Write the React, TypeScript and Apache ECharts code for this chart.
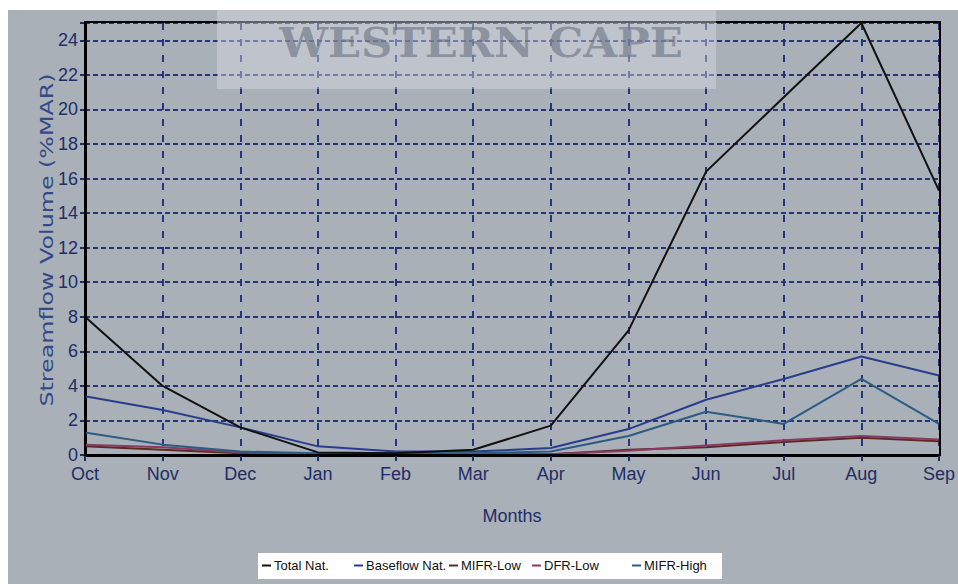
import React, { useEffect, useRef } from "react";
import * as echarts from "echarts";

const months = ["Oct", "Nov", "Dec", "Jan", "Feb", "Mar", "Apr", "May", "Jun", "Jul", "Aug", "Sep"];
const totalNat = [8.0, 4.0, 1.6, 0.15, 0.1, 0.3, 1.7, 7.2, 16.4, 20.7, 25.0, 15.3];
const baseflowNat = [3.4, 2.6, 1.6, 0.5, 0.2, 0.2, 0.4, 1.5, 3.2, 4.4, 5.7, 4.6];
const mifrLow = [0.5, 0.3, 0.1, 0.05, 0.05, 0.05, 0.05, 0.3, 0.45, 0.75, 1.0, 0.8];
const dfrLow = [0.6, 0.45, 0.15, 0.05, 0.05, 0.05, 0.05, 0.25, 0.55, 0.85, 1.1, 0.9];
const mifrHigh = [1.3, 0.6, 0.2, 0.1, 0.1, 0.1, 0.2, 1.1, 2.5, 1.8, 4.4, 1.8];
const yTicks = [0, 2, 4, 6, 8, 10, 12, 14, 16, 18, 20, 22, 24];

const seriesNames = ["Total Nat.", "Baseflow Nat.", "MIFR-Low", "DFR-Low", "MIFR-High"];
const seriesColors = ["#111111", "#2a3d8c", "#5a2a22", "#8a3a62", "#2c5b84"];
const seriesData = [totalNat, baseflowNat, mifrLow, dfrLow, mifrHigh];
const legendX = [262, 354, 449, 532, 632];

const SANS = "'Liberation Sans', Arial, sans-serif";
const LABEL = "#1f2d66";

export default function App() {
  const ref = useRef<HTMLDivElement>(null);
  useEffect(() => {
    if (!ref.current) return;
    const chart = echarts.init(ref.current, undefined, { renderer: "svg" });
    const option: any = {
      animation: false,
      backgroundColor: "#ffffff",
      grid: { left: 85, right: 18, top: 23, bottom: 129, show: false },
      xAxis: {
        type: "category",
        data: months,
        boundaryGap: false,
        name: "Months",
        nameLocation: "middle",
        nameGap: 52,
        nameTextStyle: { color: LABEL, fontSize: 18, fontFamily: SANS },
        axisLine: { show: true, lineStyle: { color: "#000", width: 3 } },
        axisTick: { show: true, length: 6, lineStyle: { color: LABEL, width: 2 } },
        axisLabel: { color: LABEL, fontSize: 18, fontFamily: SANS, margin: 10 },
        splitLine: { show: true, lineStyle: { color: "#26357a", type: [7, 9], width: 2 } },
      },
      yAxis: {
        type: "value",
        min: 0,
        max: 25,
        interval: 2,
        axisLine: { show: true, lineStyle: { color: "#000", width: 3 } },
        axisTick: { show: true, length: 5, lineStyle: { color: LABEL, width: 2 } },
        axisLabel: {
          color: LABEL,
          fontSize: 18,
          fontFamily: SANS,
          margin: 7,
          formatter: (v: number) => (yTicks.includes(v) ? String(v) : ""),
        },
        splitLine: { show: true, lineStyle: { color: "#26357a", type: [5, 3], width: 2 } },
      },
      legend: seriesNames.map((n, i) => ({
        data: [n],
        left: legendX[i],
        top: 559,
        padding: 0,
        icon: "rect",
        itemWidth: 9,
        itemHeight: 2,
        itemGap: 4,
        textStyle: { color: "#111", fontSize: 13, fontFamily: SANS, padding: [0, 0, 0, -2] },
        z: 20,
      })),
      graphic: [
        {
          type: "rect",
          z: -10,
          silent: true,
          shape: { x: 8, y: 10, width: 950, height: 574 },
          style: { fill: "#a9b0b8" },
        },
        {
          type: "rect",
          z: 10,
          silent: true,
          shape: { x: 85, y: 22, width: 855, height: 433 },
          style: { fill: "none", stroke: "#000", lineWidth: 2 },
        },
        {
          type: "rect",
          z: 15,
          silent: true,
          shape: { x: 217, y: 10, width: 499, height: 79 },
          style: { fill: "rgba(222,225,230,0.42)" },
        },
        {
          type: "text",
          z: 16,
          silent: true,
          x: 481,
          y: 42,
          scaleX: 1.06,
          style: {
            text: "WESTERN CAPE",
            fill: "rgba(105,113,130,0.6)",
            font: "bold 41px 'DejaVu Serif', 'Liberation Serif', serif",
            align: "center",
            verticalAlign: "middle",
          },
        },
        {
          type: "text",
          z: 16,
          silent: true,
          x: 47,
          y: 240,
          rotation: Math.PI / 2,
          scaleX: 1.4,
          style: {
            text: "Streamflow Volume (%MAR)",
            fill: "#34488a",
            font: "17px 'DejaVu Sans', sans-serif",
            align: "center",
            verticalAlign: "middle",
          },
        },
        {
          type: "rect",
          z: 12,
          silent: true,
          shape: { x: 258, y: 553, width: 464, height: 26 },
          style: { fill: "#ffffff" },
        },
      ],
      series: seriesNames.map((n, i) => ({
        name: n,
        type: "line",
        data: seriesData[i],
        showSymbol: false,
        symbol: "none",
        lineStyle: { color: seriesColors[i], width: 2 },
        itemStyle: { color: seriesColors[i] },
        z: i === 0 ? 6 : 5,
      })),
    };
    chart.setOption(option);
    return () => chart.dispose();
  }, []);
  return (
    <div
      ref={ref}
      style={{ position: "absolute", left: 0, top: 0, width: 958, height: 584 }}
    />
  );
}
